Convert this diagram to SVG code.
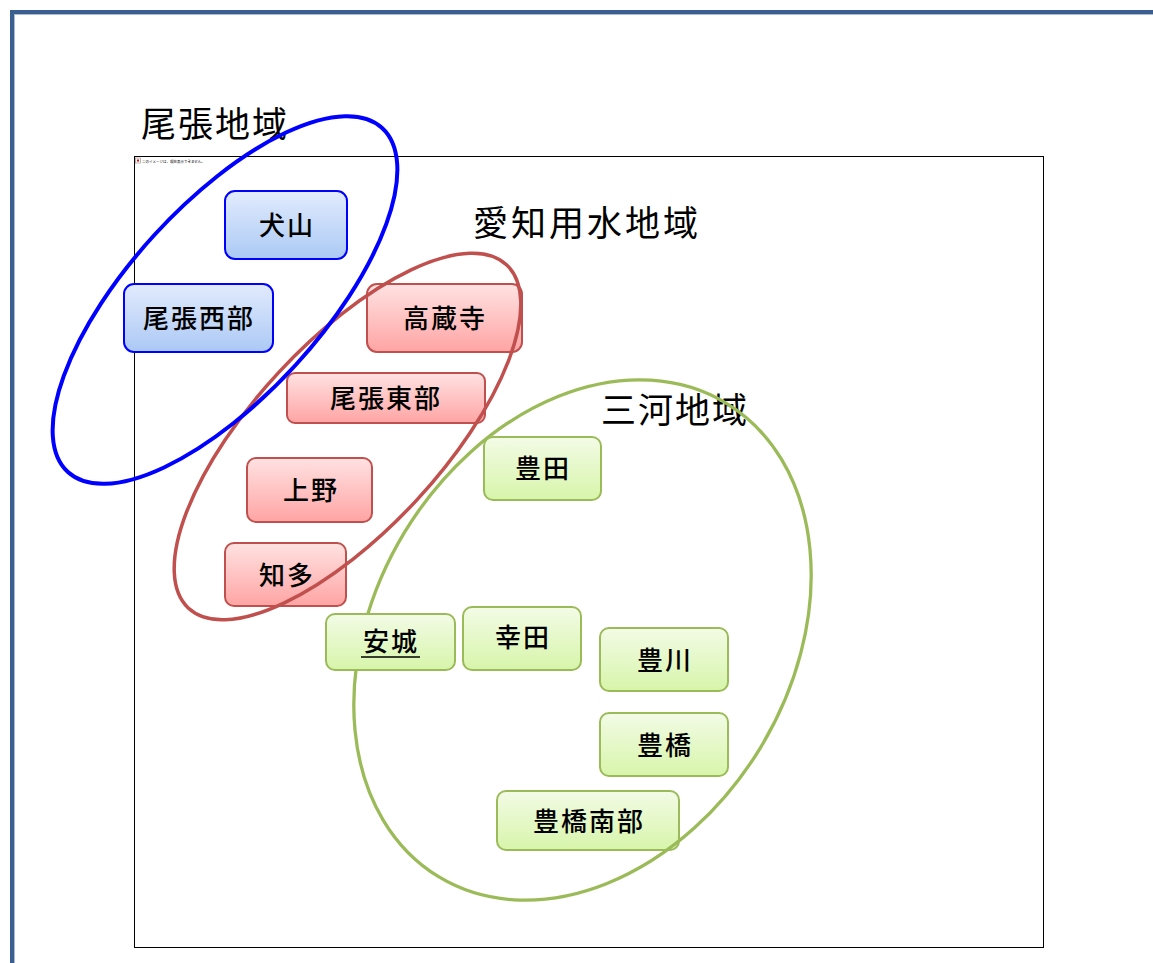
<svg xmlns="http://www.w3.org/2000/svg" width="1153" height="963" viewBox="0 0 1153 963">
<defs>
<linearGradient id="gBlue" x1="0" y1="0" x2="0" y2="1"><stop offset="0" stop-color="#e2ebfd"/><stop offset="1" stop-color="#abc9f5"/></linearGradient>
<linearGradient id="gRed" x1="0" y1="0" x2="0" y2="1"><stop offset="0" stop-color="#ffe2e2"/><stop offset="1" stop-color="#ffa4a4"/></linearGradient>
<linearGradient id="gGreen" x1="0" y1="0" x2="0" y2="1"><stop offset="0" stop-color="#f3fbe6"/><stop offset="1" stop-color="#d7f5aa"/></linearGradient>
</defs>
<style>
text{font-family:"Noto Sans CJK JP","Noto Sans CJK SC",sans-serif;fill:#000}
.lbl{font-size:26px;text-anchor:middle;letter-spacing:2px;font-weight:500}
.region{font-size:35px;letter-spacing:2px;font-weight:400}
.nb{fill:url(#gBlue);stroke:#0000ff;stroke-width:2}
.nr{fill:url(#gRed);stroke:#c0504d;stroke-width:2}
.ng{fill:url(#gGreen);stroke:#9bbb59;stroke-width:2}
.ell{fill:none}
</style>
<rect x="0" y="0" width="1153" height="963" fill="#fff"/>
<rect x="12" y="12" width="1200" height="1000" fill="none" stroke="#3b5f8e" stroke-width="4"/>
<rect x="14.5" y="14.5" width="1200" height="1000" fill="none" stroke="#a9bad3" stroke-width="1"/>
<rect x="134.5" y="156.5" width="909" height="791" fill="none" stroke="#000" stroke-width="1"/>
<rect x="135.5" y="158" width="5" height="5" fill="#fff" stroke="#888" stroke-width="0.6"/>
<rect x="137" y="159.5" width="2" height="2" fill="#e00"/>
<text x="142" y="162.5" font-size="3.5" fill="#333">このイメージは、現在表示できません。</text>

<g id="region-labels">
<text class="region" x="141" y="137">尾張地域</text>
<text class="region" x="473" y="236" style="letter-spacing:3px">愛知用水地域</text>
<text class="region" x="601" y="423">三河地域</text>
</g>

<g id="connectors"></g>

<g id="node-toyohashinanbu"><rect class="ng" x="497" y="791" width="182" height="59" rx="9"/><text class="lbl" x="589" y="831">豊橋南部</text></g>

<g id="region-mikawa"><ellipse class="ell" cx="582.5" cy="640" rx="277" ry="208" transform="rotate(-58.7 582.5 640)" stroke="#9bbb59" stroke-width="3.3"/></g>

<g id="node-inuyama"><rect class="nb" x="225" y="191" width="122" height="68" rx="10"/><text class="lbl" x="287" y="235">犬山</text></g>
<g id="node-owarinishibu"><rect class="nb" x="124" y="284" width="149" height="68" rx="10"/><text class="lbl" x="199" y="328">尾張西部</text></g>

<g id="node-kozoji"><rect class="nr" x="367" y="284" width="155" height="68" rx="10"/><text class="lbl" x="445" y="328">高蔵寺</text></g>
<g id="node-owarihigashibu"><rect class="nr" x="287" y="373" width="198" height="50" rx="8"/><text class="lbl" x="386" y="408">尾張東部</text></g>
<g id="node-ueno"><rect class="nr" x="247" y="458" width="125" height="64" rx="9"/><text class="lbl" x="311" y="500">上野</text></g>
<g id="node-chita"><rect class="nr" x="225" y="543" width="121" height="63" rx="9"/><text class="lbl" x="287" y="585">知多</text></g>

<g id="node-toyota"><rect class="ng" x="484" y="437" width="117" height="63" rx="9"/><text class="lbl" x="543" y="478">豊田</text></g>
<g id="node-anjo"><rect class="ng" x="326" y="614" width="129" height="56" rx="9"/><text class="lbl" x="391" y="651">安城</text><line x1="361" y1="657" x2="420" y2="657" stroke="#000" stroke-width="1.5"/></g>
<g id="node-koda"><rect class="ng" x="463" y="607" width="118" height="63" rx="9"/><text class="lbl" x="523" y="647">幸田</text></g>
<g id="node-toyokawa"><rect class="ng" x="600" y="628" width="128" height="63" rx="9"/><text class="lbl" x="665" y="670">豊川</text></g>
<g id="node-toyohashi"><rect class="ng" x="600" y="713" width="128" height="63" rx="9"/><text class="lbl" x="665" y="755">豊橋</text></g>

<g id="region-aichiyosui"><ellipse class="ell" cx="347.5" cy="436.5" rx="234" ry="94" transform="rotate(-47.2 347.5 436.5)" stroke="#c0504d" stroke-width="3.5"/></g>
<g id="region-owari"><ellipse class="ell" cx="225" cy="300" rx="233" ry="96" transform="rotate(-47.6 225 300)" stroke="#0000ff" stroke-width="4"/></g>
</svg>
